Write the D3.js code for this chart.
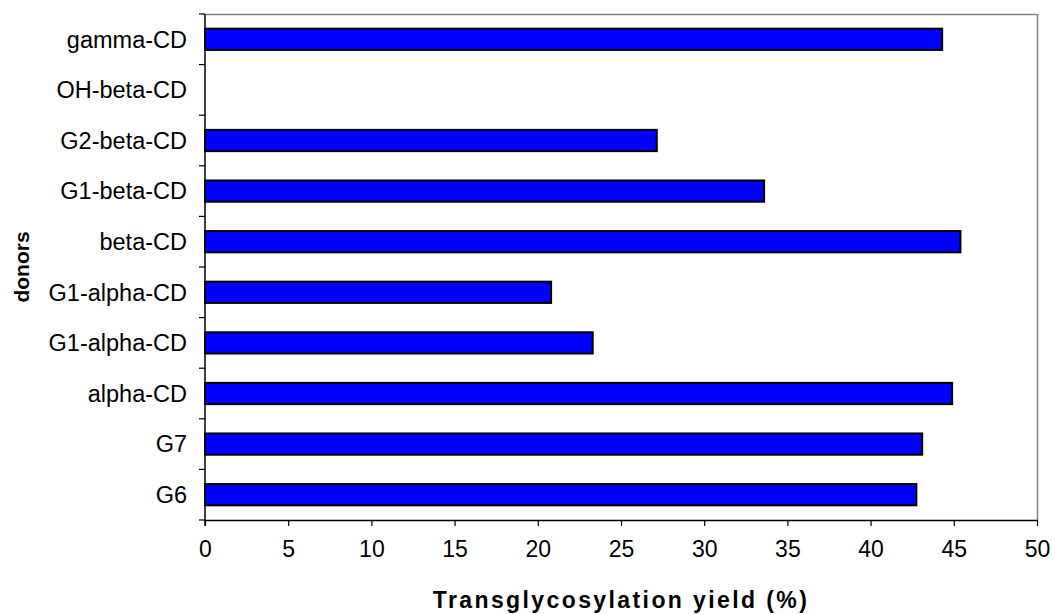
<!DOCTYPE html>
<html><head><meta charset="utf-8">
<script src="https://cdn.jsdelivr.net/npm/d3@7"></script>
<style>body{margin:0;background:#fff;} text{font-family:"Liberation Sans",Arial,sans-serif;}</style>
</head><body>
<svg id="c" width="1054" height="614"></svg>
<script>
const categories = ["gamma-CD","OH-beta-CD","G2-beta-CD","G1-beta-CD","beta-CD","G1-alpha-CD ","G1-alpha-CD","alpha-CD","G7","G6"];
const values = [44.3, 0, 27.15, 33.6, 45.4, 20.8, 23.3, 44.9, 43.1, 42.75];
const xTicks = [0,5,10,15,20,25,30,35,40,45,50];
const xTitle = "Transglycosylation yield (%)";
const yTitle = "donors";

const svg = d3.select("#c");
const m = {l:205, t:14, r:1037, b:520};
const x = d3.scaleLinear().domain([0,50]).range([m.l, m.r]);
const y = d3.scaleBand().domain(categories).range([m.t, m.b]).paddingInner(0.58).paddingOuter(0.29);
const yb = d3.scaleBand().domain(categories).range([m.t, m.b]);

// plot border (top/right gray)
svg.append("line").attr("x1",m.l).attr("x2",m.r).attr("y1",m.t+0.5).attr("y2",m.t+0.5).attr("stroke","#808080").attr("stroke-width",1.5);
svg.append("line").attr("x1",m.r+0.5).attr("x2",m.r+0.5).attr("y1",m.t).attr("y2",m.b).attr("stroke","#808080").attr("stroke-width",1.5);

// bars
svg.selectAll("rect.bar").data(categories.map((c,i)=>({c,v:values[i]})).filter(d=>d.v>0))
  .join("rect").attr("class","bar")
  .attr("x", x(0)).attr("y", d=>y(d.c)).attr("width", d=>x(d.v)-x(0)).attr("height", y.bandwidth())
  .attr("fill","#0000ff").attr("stroke","#000").attr("stroke-width",2);

// x axis
const xa = svg.append("g").attr("transform",`translate(0,${m.b})`)
  .call(d3.axisBottom(x).tickValues(xTicks).tickSize(6).tickSizeOuter(0).tickPadding(15));
xa.select(".domain").attr("stroke","#000").attr("stroke-width",1.5);
xa.selectAll(".tick line").attr("stroke","#000").attr("stroke-width",1.2);
xa.selectAll("text").attr("font-size",23).attr("fill","#000").attr("font-family","Liberation Sans, Arial, sans-serif");

// y axis: ticks at band boundaries
const ya = svg.append("g").attr("transform",`translate(${m.l},0)`);
ya.append("line").attr("x1",0).attr("x2",0).attr("y1",m.t).attr("y2",m.b+6).attr("stroke","#000").attr("stroke-width",1.5);
const bounds = categories.map(c=>yb(c)).concat([m.b]);
ya.selectAll("line.t").data(bounds).join("line").attr("class","t")
  .attr("x1",-6).attr("x2",0).attr("y1",d=>d).attr("y2",d=>d).attr("stroke","#000").attr("stroke-width",1.2);
ya.selectAll("text.l").data(categories).join("text").attr("class","l")
  .attr("x",-18).attr("y",d=>yb(d)+yb.bandwidth()/2).attr("dy","0.35em")
  .attr("text-anchor","end").attr("font-size",23.5).attr("fill","#000").text(d=>d.trim());

svg.append("text").attr("x",(m.l+m.r)/2).attr("y",608).attr("text-anchor","middle")
  .attr("font-size",23).attr("font-weight","bold").attr("letter-spacing","2.4px").text(xTitle);
svg.append("text").attr("transform",`translate(29,${(m.t+m.b)/2}) rotate(-90)`).attr("text-anchor","middle")
  .attr("font-size",21).attr("font-weight","bold").text(yTitle);
</script>
</body></html>
